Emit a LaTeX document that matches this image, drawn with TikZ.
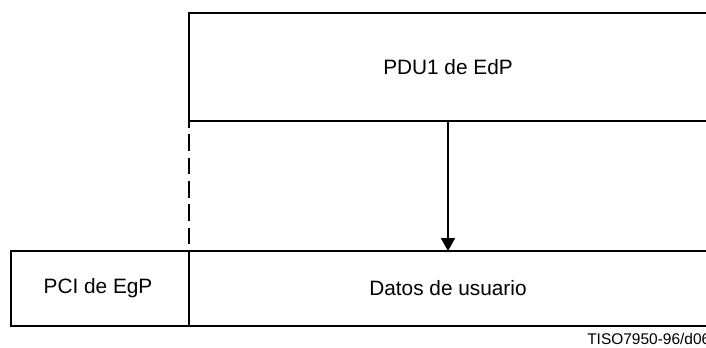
\documentclass[tikz,border=0pt]{standalone}
\usepackage{fontspec}
\setmainfont{Liberation Sans}
\usetikzlibrary{arrows.meta}
\begin{document}
\begin{tikzpicture}[x=0.75pt,y=-0.75pt,
  frame/.style={line width=1pt,line cap=rect},
  guide/.style={line width=1.4pt,dash pattern=on 12.5pt off 5pt,dash phase=7.5pt},
  flow/.style={line width=1.3pt,-{Triangle[width=10.5pt,length=9.75pt]}},
  boxtext/.style={font=\fontsize{15.6}{18}\selectfont,inner sep=0pt},
  tag/.style={font=\fontsize{11.6}{14}\selectfont,inner sep=0pt,anchor=base west}]
  \useasboundingbox (0,0) rectangle (706,347);

  % upper PDU frame, open towards the right
  \coordinate (pduNW) at (189,13);
  \coordinate (pduNE) at (706,13);
  \coordinate (pduSW) at (189,121);
  \coordinate (pduSE) at (706,121);
  \draw[frame] (pduNE) -- (pduNW) -- (pduSW) -- (pduSE);
  \node[boxtext] (pdu) at (448,67) {PDU1 de EdP};

  % lower row: PCI field and user data field
  \coordinate (pciNW) at (11,251);
  \coordinate (pciSW) at (11,326);
  \coordinate (divN) at (189,251);
  \coordinate (divS) at (189,326);
  \coordinate (datNE) at (706,251);
  \coordinate (datSE) at (706,326);
  \draw[frame] (datNE) -- (pciNW) -- (pciSW) -- (datSE);
  \draw[frame] (divN) -- (divS);
  \node[boxtext] (pci) at (98,288.5) {PCI de EgP};
  \node[boxtext] (dat) at (448,288.5) {Datos de usuario};

  % boundary guide and mapping arrow
  \draw[guide] (pduSW) -- (divN);
  \draw[flow] (pdu |- pduSW) -- (dat |- divN);

  \node[tag] (ref) at (587,344) {TISO7950-96/d06};
\end{tikzpicture}
\end{document}
